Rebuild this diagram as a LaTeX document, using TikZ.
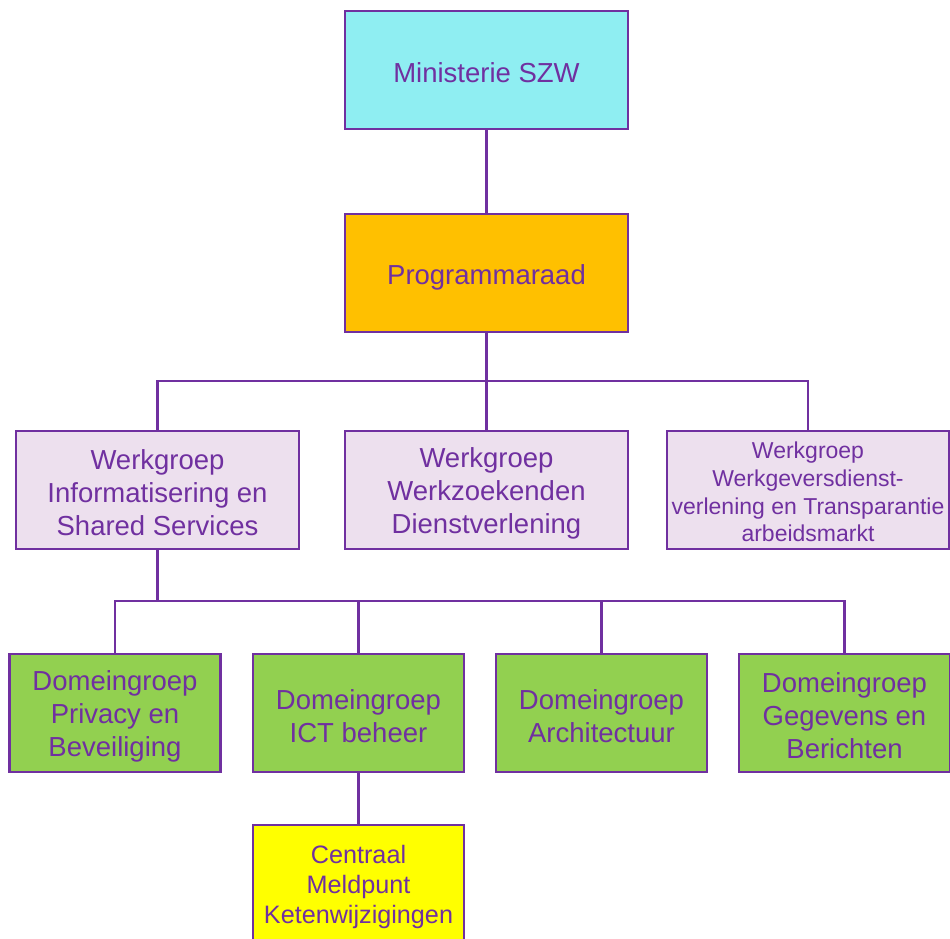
\documentclass[tikz,border=0pt]{standalone}
\usepackage{fontspec}
\setmainfont{Liberation Sans}
\definecolor{txtpurple}{HTML}{7030A0}
\definecolor{linepurple}{HTML}{7030A0}
\definecolor{cyanfill}{HTML}{8FEEF2}
\definecolor{orangefill}{HTML}{FFC000}
\definecolor{lavfill}{HTML}{EDE0EE}
\definecolor{greenfill}{HTML}{92D050}
\definecolor{yellowfill}{HTML}{FFFF00}
\tikzset{
  orgbox/.style={draw=linepurple, line width=2.5pt, inner sep=0pt},
  bigbox/.style={orgbox, minimum width=283pt, minimum height=118pt},
  smallbox/.style={orgbox, minimum width=211pt, minimum height=118pt},
  boxtext/.style={text=txtpurple, align=center, inner sep=0pt, yshift=-3pt,
    font=\fontsize{27.5}{33}\selectfont},
  conn/.style={draw=linepurple, line width=2.5pt}
}
\begin{document}
\begin{tikzpicture}[x=1pt,y=-1pt]
\clip (0,0) rectangle (950,939);
\fill[white] (0,0) rectangle (950,939);
\node[bigbox, fill=cyanfill] (min) at (486.5,70) {};
\node[boxtext] (mint) at (min.center) {Ministerie SZW};
\node[bigbox, fill=orangefill] (prog) at (486.5,273) {};
\node[boxtext, yshift=-1pt] (progt) at (prog.center) {Programmaraad};
\node[bigbox, fill=lavfill] (w1) at (157.5,490) {};
\node[boxtext] (w1t) at (w1.center) {Werkgroep\\Informatisering en\\Shared Services};
\node[bigbox, fill=lavfill] (w2) at (486.5,490) {};
\node[boxtext] (w2t) at (w2.center) {Werkgroep\\Werkzoekenden\\Dienstverlening};
\node[bigbox, fill=lavfill, minimum width=282pt] (w3) at (808,490) {};
\node[boxtext, yshift=1pt, font=\fontsize{23}{27.6}\selectfont] (w3t) at (w3.center) {Werkgroep\\Werkgeversdienst-\\verlening en Transparantie\\arbeidsmarkt};
\node[smallbox, fill=greenfill] (d1) at (115,713) {};
\node[boxtext] (d1t) at (d1.center) {Domeingroep\\Privacy en\\Beveiliging};
\node[smallbox, fill=greenfill] (d2) at (358.5,713) {};
\node[boxtext] (d2t) at (d2.center) {Domeingroep\\ICT beheer};
\node[smallbox, fill=greenfill] (d3) at (601.5,713) {};
\node[boxtext] (d3t) at (d3.center) {Domeingroep\\Architectuur};
\node[smallbox, fill=greenfill] (d4) at (844.5,713) {};
\node[boxtext] (d4t) at (d4.center) {Domeingroep\\Gegevens en\\Berichten};
\node[smallbox, fill=yellowfill] (cm) at (358.5,884) {};
\node[boxtext, font=\fontsize{25.2}{30}\selectfont] (cmt) at (cm.center) {Centraal\\Meldpunt\\Ketenwijzigingen};
\coordinate (bus1) at (486.5,381);
\coordinate (bus2) at (157.5,601);
\draw[conn] (min.south) -- (prog.north);
\draw[conn] (prog.south) -- (bus1);
\draw[conn] (w1.north) -- (w1.north |- bus1) -- (w3.north |- bus1) -- (w3.north);
\draw[conn] (bus1) -- (w2.north);
\draw[conn] (w1.south) -- (bus2);
\draw[conn] (d1.north) -- (d1.north |- bus2) -- (d4.north |- bus2) -- (d4.north);
\draw[conn] (d2.north |- bus2) -- (d2.north);
\draw[conn] (d3.north |- bus2) -- (d3.north);
\draw[conn] (d2.south) -- (cm.north);
\end{tikzpicture}
\end{document}
